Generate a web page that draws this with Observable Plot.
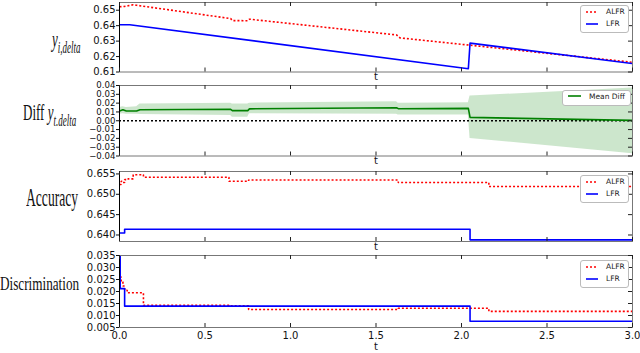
<!DOCTYPE html>
<html><head><meta charset="utf-8">
<script src="https://cdn.jsdelivr.net/npm/d3@7"></script>
<script src="https://cdn.jsdelivr.net/npm/@observablehq/plot@0.6"></script>
<style>
body{margin:0;background:#fff;}
#root{position:relative;width:640px;height:353px;overflow:hidden;font-family:"DejaVu Sans",sans-serif;}
.panel{position:absolute;left:0;}
.ylab{position:absolute;font-family:"Liberation Serif",serif;white-space:nowrap;transform-origin:left center;height:20px;line-height:20px;color:#111;}
.ylab sub{font-size:9px;font-style:italic;vertical-align:-3px;}
.legend{position:absolute;border:1px solid #bbb;border-radius:3px;background:#fff;font-size:7.5px;color:#222;}
.legend .it{position:absolute;white-space:nowrap;}
</style></head><body><div id="root"></div>
<script>
// ---------- data ----------
const xTicks = [0, 0.5, 1, 1.5, 2, 2.5, 3];
const xTickLabels = ["0.0", "0.5", "1.0", "1.5", "2.0", "2.5", "3.0"];

// Panel 1: y_{i,delta}
const p1Ticks = [0.61, 0.62, 0.63, 0.64, 0.65];
const p1AlfrT = [0, 0.03, 0.08, 0.10, 0.65, 0.66, 0.75, 0.76, 1.62, 1.64, 3.0];
const p1AlfrV = [0.6522, 0.6525, 0.6535, 0.6532, 0.6446, 0.6433, 0.6432, 0.6442, 0.6340, 0.6321, 0.6163];
const p1LfrT = [0, 0.06, 2.04, 2.05, 3.0];
const p1LfrV = [0.6406, 0.6406, 0.6121, 0.6287, 0.6155];

// Panel 2: Diff y_{t,delta}
const p2Ticks = [-0.04, -0.03, -0.02, -0.01, 0, 0.01, 0.02, 0.03, 0.04];
const p2T    = [0, 0.02, 0.04, 0.10, 0.12, 0.65, 0.66, 0.75, 0.76, 1.62, 1.63, 2.04, 2.05, 3.0];
const p2Mean = [0.011, 0.0125, 0.011, 0.011, 0.0125, 0.013, 0.0115, 0.0115, 0.0135, 0.0148, 0.0137, 0.014, 0.0038, 0.0004];
const p2Lo   = [0.0075, 0.008, 0.0075, 0.0075, 0.007, 0.006, 0.004, 0.004, 0.008, 0.0075, 0.0065, 0.0065, -0.020, -0.0375];
const p2Hi   = [0.015, 0.016, 0.015, 0.016, 0.019, 0.020, 0.019, 0.019, 0.020, 0.0215, 0.020, 0.0205, 0.028, 0.0372];

// Panel 3: Accuracy
const p3Ticks = [0.640, 0.645, 0.650, 0.655];
const p3AlfrT = [0, 0.01, 0.02, 0.03, 0.05, 0.08, 0.14, 0.64, 0.755, 1.63, 2.16, 3.0];
const p3AlfrV = [0.6524, 0.6532, 0.6529, 0.6536, 0.6538, 0.6548, 0.6542, 0.6532, 0.6535, 0.6529, 0.6519, 0.6519];
const p3LfrT = [0, 0.03, 2.05, 3.0];
const p3LfrV = [0.6405, 0.6414, 0.6388, 0.6388];

// Panel 4: Discrimination
const p4Ticks = [0.005, 0.010, 0.015, 0.020, 0.025, 0.030, 0.035];
const p4AlfrT = [0, 0.01, 0.02, 0.03, 0.045, 0.14, 0.64, 0.755, 1.63, 2.16, 3.0];
const p4AlfrV = [0.0260, 0.0240, 0.0223, 0.0205, 0.0195, 0.0142, 0.0140, 0.0125, 0.0130, 0.0117, 0.0117];
const p4LfrT = [0, 0.004, 0.03, 2.05, 3.0];
const p4LfrV = [0.035, 0.0212, 0.0139, 0.0076, 0.0076];

const seriesNames = ["ALFR", "LFR"];
const diffName = "Mean Diff";

// ---------- helpers ----------
const zip = (t, v) => t.map((d, i) => ({t: d, v: v[i]}));
const root = document.getElementById("root");
const RED = "#ff0000", BLUE = "#0000ff", GREEN = "#008000";

function panel({frameTop, frameBottom, yDomain, yTicks, yFormat, marks, bottomAxis, yFont = 10}) {
  const mt = 4, mb = bottomAxis ? 30 : 16;
  const fh = frameBottom - frameTop;
  const W = 640, ml = 119, mr = 8;
  const fw = W - ml - mr;
  const chart = Plot.plot({
    width: W, height: fh + mt + mb,
    marginTop: mt, marginBottom: mb, marginLeft: ml, marginRight: mr,
    style: {fontSize: "10px", fontFamily: "DejaVu Sans, sans-serif", background: "transparent", color: "#111"},
    x: {domain: [0, 3], axis: null},
    y: {domain: yDomain, axis: null},
    marks: [
      ...marks,
      Plot.frame({stroke: "#777"}),
      Plot.ruleX([0], {stroke: "#000"}),
      Plot.tickX(xTicks, {x: d => d, insetTop: fh - 4, stroke: "#222"}),
      Plot.tickX(xTicks, {x: d => d, insetBottom: fh - 4, stroke: "#222"}),
      Plot.tickY(yTicks, {y: d => d, insetLeft: fw - 4, stroke: "#222"}),
      Plot.axisY({ticks: yTicks, tickSize: 3, tickPadding: 1, tickFormat: yFormat, anchor: "left", label: null, fontSize: yFont}),
      bottomAxis ? Plot.axisX({ticks: xTicks, tickSize: 0, tickPadding: 4, tickFormat: (d, i) => xTickLabels[i], label: null, anchor: "bottom"}) : null,
      Plot.text(["t"], {text: d => d, frameAnchor: "bottom", dy: bottomAxis ? 22 : 8, fontSize: 10})
    ]
  });
  const div = document.createElement("div");
  div.className = "panel";
  div.style.top = (frameTop - mt) + "px";
  div.appendChild(chart);
  root.appendChild(div);
}

function ylabel(html, left, cy, fs, sy) {
  const d = document.createElement("div");
  d.className = "ylab";
  d.innerHTML = html;
  d.style.left = left + "px";
  d.style.top = (cy - 10) + "px";
  d.style.fontSize = fs + "px";
  d.style.transform = `scale(1, ${sy})`;
  root.appendChild(d);
}

function legend(left, top, w, h, items) {
  const d = document.createElement("div");
  d.className = "legend";
  Object.assign(d.style, {left: left + "px", top: top + "px", width: w + "px", height: h + "px"});
  items.forEach(it => {
    const s = document.createElement("div");
    s.className = "it";
    s.style.left = "5px";
    s.style.top = it.y + "px";
    s.innerHTML = `<svg width="${it.lw}" height="6" style="vertical-align:middle"><line x1="0" y1="3" x2="${it.lw}" y2="3" stroke="${it.color}" stroke-width="${it.sw}" ${it.dash ? `stroke-dasharray="${it.dash}"` : ""}/></svg><span style="margin-left:${it.gap}px;vertical-align:middle">${it.name}</span>`;
    d.appendChild(s);
  });
  root.appendChild(d);
}

const dotted = {stroke: RED, strokeWidth: 1.6, strokeDasharray: "2,2", strokeLinecap: "butt", strokeLinejoin: "miter"};
const solid = {stroke: BLUE, strokeWidth: 1.6};

// Panel 1
panel({
  frameTop: 1.5, frameBottom: 71, yDomain: [0.61, 0.655], yTicks: p1Ticks, yFormat: d3.format(".2f"),
  marks: [
    Plot.line(zip(p1AlfrT, p1AlfrV), {x: "t", y: "v", ...dotted, clip: true}),
    Plot.line(zip(p1LfrT, p1LfrV), {x: "t", y: "v", ...solid, clip: true})
  ]
});
// Panel 2
const p2Data = p2T.map((t, i) => ({t, m: p2Mean[i], lo: p2Lo[i], hi: p2Hi[i]}));
panel({
  frameTop: 85, frameBottom: 155.5, yDomain: [-0.04, 0.04], yTicks: p2Ticks, yFormat: d3.format(".2f"), yFont: 8.6,
  marks: [
    Plot.areaY(p2Data, {x: "t", y1: "lo", y2: "hi", fill: GREEN, fillOpacity: 0.2, clip: true}),
    Plot.ruleY([0], {stroke: "#000", strokeWidth: 1.6, strokeDasharray: "2,2"}),
    Plot.line(p2Data, {x: "t", y: "m", stroke: GREEN, strokeWidth: 1.6, clip: true})
  ]
});
// Panel 3
panel({
  frameTop: 171, frameBottom: 241, yDomain: [0.6384, 0.6556], yTicks: p3Ticks, yFormat: d3.format(".3f"),
  marks: [
    Plot.line(zip(p3AlfrT, p3AlfrV), {x: "t", y: "v", curve: "step-after", ...dotted, clip: true}),
    Plot.line(zip(p3LfrT, p3LfrV), {x: "t", y: "v", curve: "step-after", ...solid, clip: true})
  ]
});
// Panel 4
panel({
  frameTop: 255, frameBottom: 327, yDomain: [0.005, 0.035], yTicks: p4Ticks, yFormat: d3.format(".3f"),
  bottomAxis: true,
  marks: [
    Plot.line(zip(p4AlfrT, p4AlfrV), {x: "t", y: "v", curve: "step-after", ...dotted, clip: true}),
    Plot.line(zip(p4LfrT, p4LfrV), {x: "t", y: "v", curve: "step-after", ...solid, clip: true})
  ]
});

// y labels
ylabel('<i>y</i><sub>i,delta</sub>', 52, 40, 13, 1.8);
ylabel('Diff <i>y</i><sub>t.delta</sub>', 23, 113, 13, 1.85);
ylabel('Accuracy', 26, 199, 13.6, 1.85);
ylabel('Discrimination', 0, 284, 13.2, 1.4);

// legends
const lfrItems = () => [
  {name: seriesNames[0], color: RED, sw: 1.6, dash: "2,2", lw: 12, gap: 8, y: 1},
  {name: seriesNames[1], color: BLUE, sw: 1.6, lw: 12, gap: 8, y: 13}
];
legend(580, 5, 47, 26, lfrItems());
legend(562, 89.5, 67, 14, [{name: diffName, color: GREEN, sw: 1.6, lw: 13, gap: 8, y: 1}]);
legend(580, 175, 47, 26, lfrItems());
legend(580, 260, 47, 26, lfrItems());
</script></body></html>
